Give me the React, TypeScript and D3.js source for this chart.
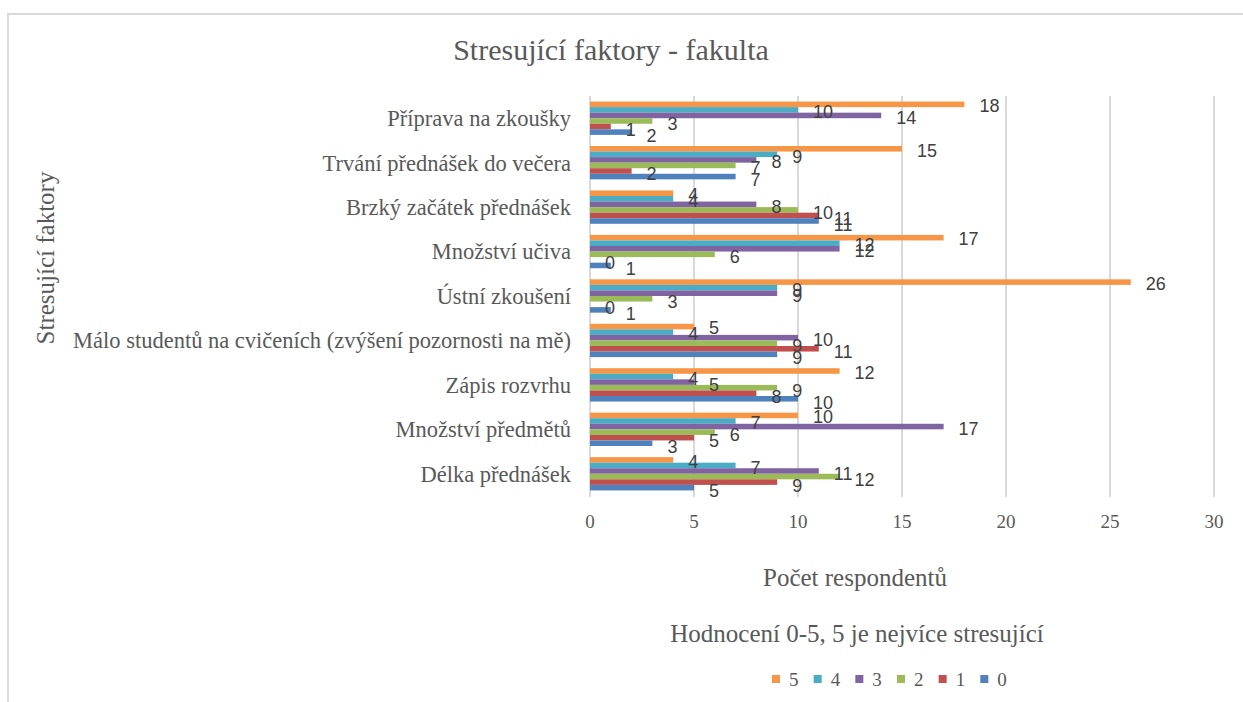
import React from 'react';
import * as d3 from 'd3';

// categories from top to bottom as they appear in the chart
const categories = [
  'Příprava na zkoušky',
  'Trvání přednášek do večera',
  'Brzký začátek přednášek',
  'Množství učiva',
  'Ústní zkoušení',
  'Málo studentů na cvičeních (zvýšení pozornosti na mě)',
  'Zápis rozvrhu',
  'Množství předmětů',
  'Délka přednášek',
];

// rating series, in legend order (5 first)
const seriesNames = ['5', '4', '3', '2', '1', '0'];
const seriesColors = ['#F79646', '#4BACC6', '#8064A2', '#9BBB59', '#C0504D', '#4F81BD'];

// values per series, same order as categories
const rating5 = [18, 15, 4, 17, 26, 5, 12, 10, 4];
const rating4 = [10, 9, 4, 12, 9, 4, 4, 7, 7];
const rating3 = [14, 8, 8, 12, 9, 10, 5, 17, 11];
const rating2 = [3, 7, 10, 6, 3, 9, 9, 6, 12];
const rating1 = [1, 2, 11, 0, 0, 11, 8, 5, 9];
const rating0 = [2, 7, 11, 1, 1, 9, 10, 3, 5];

const seriesValues = [rating5, rating4, rating3, rating2, rating1, rating0];
const xTicks = [0, 5, 10, 15, 20, 25, 30];

const W = 1243;
const H = 702;
const serif = { fontFamily: '"Liberation Serif", "Times New Roman", serif' };
const sans = { fontFamily: '"Liberation Sans", Arial, sans-serif' };
const grey = '#595959';

export default function App() {
  const x = d3.scaleLinear().domain([0, 30]).range([590, 1214]);
  const y = d3.scaleBand<string>().domain(categories).range([96, 496]).paddingInner(0.25).paddingOuter(0.125);
  const inner = d3.scaleBand<string>().domain(seriesNames).range([0, y.bandwidth()]);

  const legendX = d3.scaleBand<string>().domain(seriesNames).range([772, 1022]);

  return (
    <svg width={W} height={H} style={{ position: 'absolute', left: 0, top: 0, background: '#fff' }}>
      {/* chart frame */}
      <path d={`M8,${H} V14 H${W}`} fill="none" stroke="#d9d9d9" strokeWidth={2} />

      <text x={611} y={60} textAnchor="middle" style={serif} fontSize={30} fill={grey}>
        Stresující faktory - fakulta
      </text>

      {/* gridlines */}
      {xTicks.map((t) => (
        <line key={t} x1={x(t)} x2={x(t)} y1={96} y2={497} stroke="#d9d9d9" strokeWidth={2} />
      ))}

      {/* bars */}
      {categories.map((c, ci) => (
        <g key={c}>
          {seriesNames.map((s, si) => {
            const v = seriesValues[si][ci];
            const by = (y(c) as number) + (inner(s) as number);
            return (
              <rect
                key={s}
                x={x(0)}
                y={by}
                width={x(v) - x(0)}
                height={inner.bandwidth()}
                fill={seriesColors[si]}
              />
            );
          })}
        </g>
      ))}

      {/* data labels */}
      {categories.map((c, ci) => (
        <g key={c + '-lbl'}>
          {seriesNames.map((s, si) => {
            const v = seriesValues[si][ci];
            const cy = (y(c) as number) + (inner(s) as number) + inner.bandwidth() / 2 + 1.5 + si * 0.4;
            return (
              <text key={s} x={x(v) + 15} y={cy} dy="0.35em" style={sans} fontSize={18} fill="#404040">
                {v}
              </text>
            );
          })}
        </g>
      ))}

      {/* category labels */}
      {categories.map((c) => (
        <text
          key={c + '-cat'}
          x={571}
          y={(y(c) as number) + y.bandwidth() / 2}
          dy="0.35em"
          textAnchor="end"
          style={serif}
          fontSize={22.5}
          fill={grey}
        >
          {c}
        </text>
      ))}

      {/* x tick labels */}
      {xTicks.map((t) => (
        <text key={t + '-t'} x={x(t)} y={528} textAnchor="middle" style={serif} fontSize={19} fill={grey}>
          {t}
        </text>
      ))}

      <text x={855} y={586} textAnchor="middle" style={serif} fontSize={25} fill={grey}>
        Počet respondentů
      </text>

      <text
        transform="translate(54,258) rotate(-90)"
        textAnchor="middle"
        style={serif}
        fontSize={25}
        fill={grey}
      >
        Stresující faktory
      </text>

      <text x={857} y={642} textAnchor="middle" style={serif} fontSize={25} fill={grey}>
        Hodnocení 0-5, 5 je nejvíce stresující
      </text>

      {/* legend */}
      {seriesNames.map((s, si) => (
        <g key={s + '-leg'} transform={`translate(${legendX(s)},679)`}>
          <rect x={0} y={-4} width={8} height={8} fill={seriesColors[si]} />
          <text x={17} y={0} dy="0.35em" style={serif} fontSize={19} fill={grey}>
            {s}
          </text>
        </g>
      ))}
    </svg>
  );
}
